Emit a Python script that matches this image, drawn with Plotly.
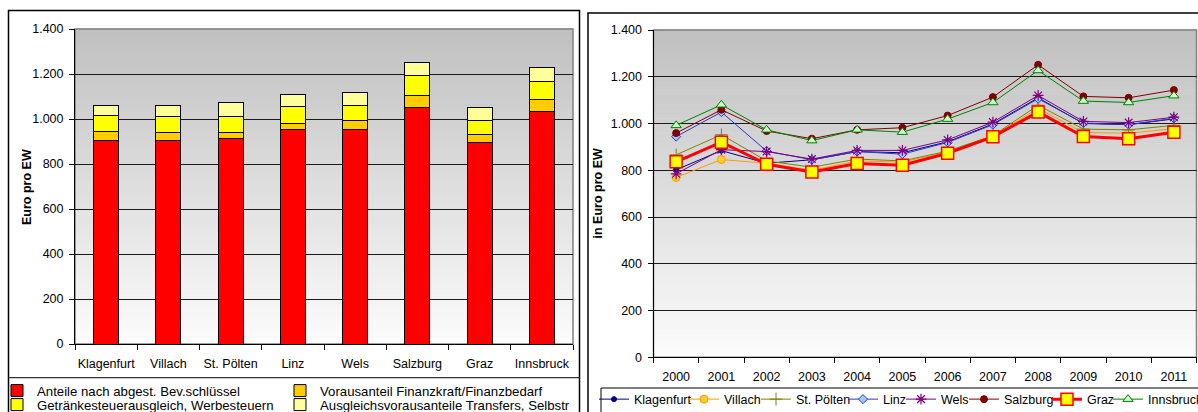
import plotly.graph_objects as go

W, H = 1198, 412

# ---------------- data ----------------
cities = ["Klagenfurt", "Villach", "St. Pölten", "Linz", "Wels", "Salzburg", "Graz", "Innsbruck"]
anteile_bev = [905, 904, 914, 954, 954, 1049, 896, 1034]
vorausanteil_fk = [39, 37, 25, 25, 39, 55, 36, 53]
getraenkesteuer = [72, 71, 71, 76, 67, 90, 62, 80]
ausgleich_transfers = [44, 48, 64, 54, 60, 59, 56, 64]

years = ["2000", "2001", "2002", "2003", "2004", "2005", "2006", "2007", "2008", "2009", "2010", "2011"]
klagenfurt = [802, 884, 830, 845, 880, 875, 922, 998, 1110, 1000, 995, 1020]
villach = [769, 846, 830, 800, 840, 835, 878, 946, 1065, 962, 958, 978]
st_poelten = [866, 952, 840, 813, 848, 840, 882, 948, 1078, 976, 973, 992]
linz = [944, 1049, 882, 845, 880, 869, 919, 995, 1106, 1002, 995, 1022]
wels = [785, 888, 880, 848, 885, 885, 930, 1006, 1120, 1009, 1004, 1027]
salzburg = [959, 1059, 968, 935, 973, 982, 1034, 1113, 1251, 1116, 1110, 1143]
graz = [836, 920, 826, 793, 829, 822, 873, 943, 1049, 944, 935, 963]
innsbruck = [992, 1080, 973, 927, 973, 963, 1019, 1090, 1227, 1096, 1090, 1119]

y_tick_vals = [0, 200, 400, 600, 800, 1000, 1200, 1400]
y_tick_labels = ["0", "200", "400", "600", "800", "1.000", "1.200", "1.400"]

FONT = "Liberation Sans, Arial, sans-serif"


def px(x):
    return x / W


def py(y):
    return 1 - y / H


fig = go.Figure()

# ---------------- left: stacked bars ----------------
bar_series = [
    ("Anteile nach abgest. Bev.schlüssel", anteile_bev, "#FF0000", "legend"),
    ("Vorausanteil Finanzkraft/Finanzbedarf", vorausanteil_fk, "#FFCC00", "legend2"),
    ("Getränkesteuerausgleich, Werbesteuern", getraenkesteuer, "#FFFF00", "legend3"),
    ("Ausgleichsvorausanteile Transfers, Selbstr", ausgleich_transfers, "#FFFF99", "legend4"),
]
for name, vals, col, lg in bar_series:
    fig.add_trace(go.Bar(
        x=cities, y=vals, name=name, xaxis="x", yaxis="y",
        marker=dict(color=col, line=dict(color="#000000", width=1)),
        width=0.4, legend=lg,
    ))

# ---------------- right: lines ----------------
line_series = [
    ("Klagenfurt", klagenfurt, dict(color="#000080", width=1),
     dict(symbol="circle", size=5, color="#000080", line=dict(color="#000080", width=1)), "legend5"),
    ("Villach", villach, dict(color="#FF9900", width=1),
     dict(symbol="circle", size=8, color="#FFCC33", line=dict(color="#FF9900", width=1)), "legend6"),
    ("St. Pölten", st_poelten, dict(color="#808000", width=1),
     dict(symbol="cross-thin", size=9, color="#808000", line=dict(color="#808000", width=1)), "legend7"),
    ("Linz", linz, dict(color="#3333CC", width=1),
     dict(symbol="diamond", size=7, color="#99CCFF", line=dict(color="#3333CC", width=1)), "legend8"),
    ("Wels", wels, dict(color="#800080", width=1),
     dict(symbol="asterisk-open", size=9, color="#800080", line=dict(color="#800080", width=1.2)), "legend9"),
    ("Salzburg", salzburg, dict(color="#800000", width=1),
     dict(symbol="circle", size=7, color="#800000", line=dict(color="#800000", width=1)), "legend10"),
    ("Graz", graz, dict(color="#FF0000", width=3),
     dict(symbol="square", size=12, color="#FFFF00", line=dict(color="#FF0000", width=1.5)), "legend11"),
    ("Innsbruck", innsbruck, dict(color="#008000", width=1),
     dict(symbol="triangle-up", size=9, color="#CCFFCC", line=dict(color="#008000", width=1)), "legend12"),
]
for name, vals, ln, mk, lg in line_series:
    fig.add_trace(go.Scatter(
        x=years, y=vals, name=name, mode="lines+markers", xaxis="x2", yaxis="y2",
        line=ln, marker=mk, legend=lg,
    ))

# ---------------- axes ----------------
L = dict(x0=75, x1=573, y0=29, y1=344)
R = dict(x0=653.5, x1=1196.5, y0=30, y1=357.3)

tickfont = dict(family=FONT, size=12.5, color="#000000")
common_y = dict(range=[0, 1400], tickvals=y_tick_vals, ticktext=y_tick_labels,
                showgrid=True, gridcolor="#1a1a1a", gridwidth=1, zeroline=False,
                showline=True, linecolor="#000000", linewidth=1,
                ticks="outside", ticklen=5, tickcolor="#000000", tickfont=tickfont,
                ticklabelstandoff=3, automargin=False)
common_x = dict(type="category", showgrid=False, zeroline=False,
                showline=True, linecolor="#000000", linewidth=1,
                ticks="outside", ticklen=5, tickcolor="#000000", tickson="boundaries",
                tickfont=tickfont, ticklabelstandoff=8, tickangle=0, automargin=False)

fig.update_layout(
    xaxis=dict(domain=[px(L["x0"]), px(L["x1"])], anchor="y", range=[-0.5, 7.5], **common_x),
    yaxis=dict(domain=[py(L["y1"]), py(L["y0"])], anchor="x", **common_y),
    xaxis2=dict(domain=[px(R["x0"]), px(R["x1"])], anchor="y2", range=[-0.5, 11.5], **common_x),
    yaxis2=dict(domain=[py(R["y1"]), py(R["y0"])], anchor="x2", **common_y),
)

# ---------------- gradient backgrounds & frames ----------------
shapes = []
N = 70
for xr, yr in (("x domain", "y domain"), ("x2 domain", "y2 domain")):
    for i in range(N):
        t = (i + 0.5) / N
        g = int(round(252 - (252 - 192) * t))
        shapes.append(dict(type="rect", xref=xr, yref=yr, x0=0, x1=1, y0=i / N, y1=(i + 1) / N + 0.002,
                           fillcolor=f"rgb({g},{g},{g})", line=dict(width=0), layer="below"))
    shapes.append(dict(type="rect", xref=xr, yref=yr, x0=0, x1=1, y0=0, y1=1,
                       line=dict(color="#808080", width=1.5), layer="below"))

# outer frames
shapes.append(dict(type="rect", xref="paper", yref="paper", x0=px(8.5), x1=px(579.5), y0=py(425), y1=py(10.5),
                   line=dict(color="#000000", width=1.5)))
shapes.append(dict(type="line", xref="paper", yref="paper", x0=px(8.5), x1=px(579.5), y0=py(377.7), y1=py(377.7),
                   line=dict(color="#333333", width=1.2)))
shapes.append(dict(type="rect", xref="paper", yref="paper", x0=px(588), x1=px(1215), y0=py(425), y1=py(13),
                   line=dict(color="#000000", width=1.5)))
shapes.append(dict(type="rect", xref="paper", yref="paper", x0=px(601), x1=px(1215), y0=py(425), y1=py(388),
                   line=dict(color="#000000", width=1)))

# ---------------- legends ----------------
legends = {}
left_font = dict(family=FONT, size=13.2, color="#000000")
right_font = dict(family=FONT, size=12.5, color="#000000")
left_pos = {"legend": (37, 391), "legend2": (320, 391), "legend3": (37, 405), "legend4": (320, 405)}
right_text_x = [634, 724, 796, 883, 941, 1004, 1087, 1148]
for k, (tx, ty) in left_pos.items():
    legends[k] = dict(x=px(tx - 40), y=py(ty), xanchor="left", yanchor="middle",
                      bgcolor="rgba(0,0,0,0)", borderwidth=0, font=left_font)
for i, tx in enumerate(right_text_x):
    legends[f"legend{5 + i}"] = dict(x=px(tx - 40), y=py(399.5), xanchor="left", yanchor="middle",
                                     bgcolor="rgba(0,0,0,0)", borderwidth=0, font=right_font)

fig.update_layout(**legends)

fig.update_layout(
    width=W, height=H,
    margin=dict(l=0, r=0, t=0, b=0, pad=0, autoexpand=False),
    paper_bgcolor="#FFFFFF", plot_bgcolor="#FFFFFF",
    barmode="stack", showlegend=True,
    font=dict(family=FONT, size=12, color="#000000"),
    shapes=shapes,
    annotations=[
        dict(text="<b>Euro pro EW</b>", textangle=-90, xref="paper", yref="paper",
             x=px(18), y=py(187), showarrow=False, font=dict(family=FONT, size=12.5, color="#000000")),
        dict(text="<b>in Euro pro EW</b>", textangle=-90, xref="paper", yref="paper",
             x=px(597), y=py(193.5), showarrow=False, font=dict(family=FONT, size=12.5, color="#000000")),
    ],
)

fig.write_html("out.html")
